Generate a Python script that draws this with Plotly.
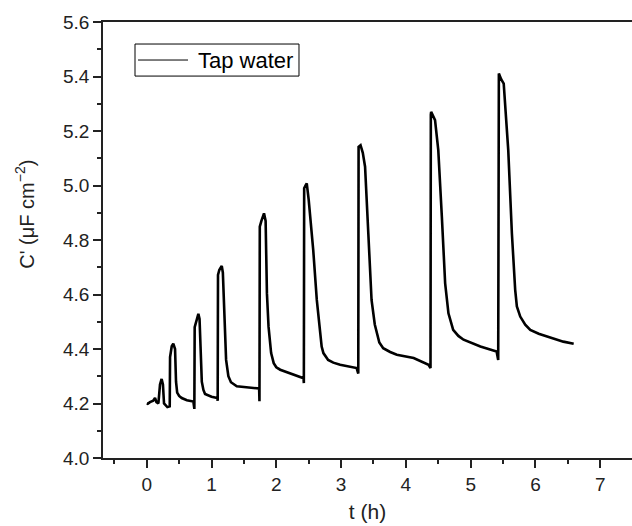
import plotly.graph_objects as go

# Time (h) and capacitance C' (uF cm^-2)
t_h = [
    0.00, 0.015, 0.05, 0.077, 0.10, 0.128, 0.15, 0.18, 0.205, 0.23, 0.25, 0.267, 0.29, 0.318, 0.355,
    0.36, 0.386, 0.41, 0.437, 0.452, 0.47, 0.50, 0.54, 0.62, 0.72, 0.735,
    0.74, 0.76, 0.797, 0.815, 0.835, 0.85, 0.875, 0.90, 1.00, 1.09, 1.095,
    1.10, 1.12, 1.158, 1.175, 1.20, 1.225, 1.26, 1.30, 1.39, 1.55, 1.735, 1.74,
    1.745, 1.77, 1.81, 1.835, 1.855, 1.88, 1.90, 1.92, 1.96, 2.00, 2.06, 2.21, 2.42, 2.425,
    2.43, 2.45, 2.47, 2.50, 2.57, 2.625, 2.676, 2.70, 2.727, 2.764, 2.80, 2.88, 2.985, 3.24, 3.265,
    3.27, 3.30, 3.335, 3.37, 3.42, 3.47, 3.52, 3.55, 3.59, 3.65, 3.757, 3.86, 4.12, 4.35, 4.38,
    4.385, 4.39, 4.45, 4.50, 4.555, 4.606, 4.657, 4.694, 4.73, 4.81, 4.89, 5.15, 5.40, 5.425,
    5.43, 5.435, 5.47, 5.51, 5.58, 5.636, 5.687, 5.713, 5.765, 5.842, 5.92, 6.05, 6.18, 6.43, 6.59,
]
c_val = [
    4.20, 4.199, 4.205, 4.207, 4.21, 4.22, 4.205, 4.20, 4.27, 4.29, 4.27, 4.20, 4.195, 4.187, 4.19,
    4.37, 4.41, 4.42, 4.40, 4.28, 4.24, 4.228, 4.22, 4.212, 4.207, 4.18,
    4.48, 4.50, 4.529, 4.51, 4.35, 4.28, 4.25, 4.235, 4.225, 4.22, 4.21,
    4.672, 4.69, 4.705, 4.68, 4.50, 4.36, 4.30, 4.278, 4.263, 4.258, 4.255, 4.208,
    4.849, 4.87, 4.898, 4.87, 4.605, 4.482, 4.42, 4.385, 4.348, 4.333, 4.324, 4.31, 4.293, 4.275,
    4.99, 5.00, 5.008, 4.947, 4.763, 4.58, 4.458, 4.409, 4.385, 4.37, 4.36, 4.35, 4.342, 4.33, 4.31,
    5.142, 5.148, 5.12, 5.069, 4.825, 4.58, 4.49, 4.458, 4.424, 4.403, 4.389, 4.379, 4.367, 4.342, 4.33,
    5.26, 5.27, 5.24, 5.13, 4.886, 4.641, 4.531, 4.495, 4.47, 4.448, 4.434, 4.409, 4.391, 4.36,
    5.40, 5.411, 5.39, 5.374, 5.13, 4.825, 4.617, 4.556, 4.519, 4.489, 4.47, 4.456, 4.446, 4.427, 4.419,
]

x_ticks = [0, 1, 2, 3, 4, 5, 6, 7]
y_ticks = [4.0, 4.2, 4.4, 4.6, 4.8, 5.0, 5.2, 5.4, 5.6]
y_tick_text = ["4.0", "4.2", "4.4", "4.6", "4.8", "5.0", "5.2", "5.4", "5.6"]
series_name = "Tap water"
x_title = "t (h)"
y_title = "C' (\u03bcF cm<sup>\u22122</sup>)"

FONT = "Liberation Sans, Arial, sans-serif"
AXC = "#222222"

fig = go.Figure()
fig.add_trace(go.Scatter(
    x=t_h, y=c_val, mode="lines", name=series_name, showlegend=False,
    line=dict(color="black", width=2.6),
))

# legend box drawn as a framed key (paper coordinates)
fig.add_shape(type="rect", xref="paper", yref="paper",
              x0=0.0605, x1=0.3705, y0=0.876, y1=0.9495,
              line=dict(color="black", width=1), fillcolor="white", layer="above")
fig.add_shape(type="line", xref="paper", yref="paper",
              x0=0.0662, x1=0.1607, y0=0.9128, y1=0.9128,
              line=dict(color="black", width=1), layer="above")
fig.add_annotation(text=series_name, xref="paper", yref="paper",
                   x=0.175, y=0.9128, xanchor="left", yanchor="middle",
                   showarrow=False, font=dict(size=22, color="black", family=FONT))

# y-axis title
fig.add_annotation(text=y_title, xref="paper", yref="paper",
                   x=-0.1474, y=0.558, xanchor="center", yanchor="middle",
                   textangle=-90, showarrow=False,
                   font=dict(size=20, color=AXC, family=FONT))

fig.update_layout(
    width=632, height=526,
    margin=dict(l=103, r=0, t=22, b=68),
    paper_bgcolor="white", plot_bgcolor="white",
    font=dict(family=FONT, color=AXC, size=19),
    showlegend=False,
)

fig.update_xaxes(
    range=[-0.675, 7.49],
    tickmode="array", tickvals=x_ticks,
    ticks="outside", ticklen=8, tickwidth=1.5, tickcolor=AXC,
    minor=dict(dtick=0.5, tick0=-0.5, ticks="outside", ticklen=4, tickwidth=1.5, tickcolor=AXC),
    showline=True, linecolor=AXC, linewidth=1.5, mirror=True,
    showgrid=False, zeroline=False,
    tickfont=dict(size=19, family=FONT, color=AXC),
    title=dict(text=x_title, font=dict(size=21, family=FONT, color=AXC), standoff=11),
)
fig.update_yaxes(
    range=[4.0, 5.6],
    tickmode="array", tickvals=y_ticks, ticktext=y_tick_text,
    ticks="outside", ticklen=8, tickwidth=1.5, tickcolor=AXC,
    minor=dict(dtick=0.1, tick0=4.0, ticks="outside", ticklen=4, tickwidth=1.5, tickcolor=AXC),
    showline=True, linecolor=AXC, linewidth=1.5, mirror=False,
    showgrid=False, zeroline=False,
    tickfont=dict(size=19, family=FONT, color=AXC),
)

fig.write_html("out.html")
